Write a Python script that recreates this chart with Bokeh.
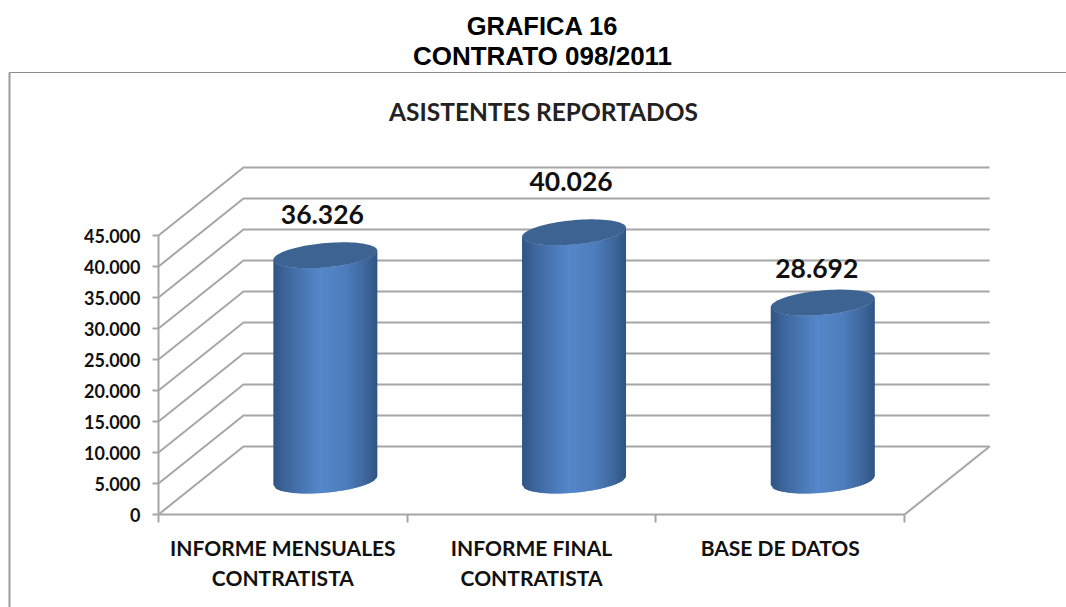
import numpy as np
from bokeh.plotting import figure
from bokeh.models import Range1d, FixedTicker, ColumnDataSource, Label, LinearAxis
from bokeh.embed import file_html
from bokeh.resources import INLINE

categories = ["INFORME MENSUALES\nCONTRATISTA", "INFORME FINAL\nCONTRATISTA", "BASE DE DATOS"]
values = [36326, 40026, 28692]
value_labels = ["36.326", "40.026", "28.692"]
y_ticks = [0, 5000, 10000, 15000, 20000, 25000, 30000, 35000, 40000, 45000]
y_tick_labels = ["0", "5.000", "10.000", "15.000", "20.000", "25.000", "30.000", "35.000", "40.000", "45.000"]
x_bounds = [0, 1, 2, 3]

W, H = 1066, 607
PX_X = 248.7       # px per category
PX_Y = 6.2 / 1000  # px per value unit
LEFT, AXIS_Y = 158, 514
sx = lambda px: px / PX_X
sy = lambda px: px / PX_Y
DX, DY = sx(85), sy(68)
# picture pixel -> data, for furniture placed by picture position
px2x = lambda x: (x - LEFT) / PX_X
px2y = lambda y: (AXIS_Y - y) / PX_Y

p = figure(width=W, height=H, output_backend="svg", toolbar_location=None,
           x_range=Range1d(px2x(0), px2x(W)), y_range=Range1d(px2y(H), px2y(0)),
           x_axis_type=None, y_axis_type=None,
           min_border_left=0, min_border_right=0, min_border_top=0, min_border_bottom=0,
           outline_line_color=None, background_fill_color="white", border_fill_color="white")
p.grid.visible = False

GREY = "#a6a6a6"
xa = LinearAxis(fixed_location=0)
p.add_layout(xa, "below")
xa.ticker = FixedTicker(ticks=[i + 0.5 for i in range(len(categories))], minor_ticks=x_bounds)
xa.major_label_overrides = {i + 0.5: c for i, c in enumerate(categories)}
xa.bounds = (x_bounds[0], x_bounds[-1])
xa.axis_line_color = GREY
xa.axis_line_width = 2
xa.major_tick_line_color = None
xa.major_tick_out = 0
xa.major_tick_in = 0
xa.minor_tick_line_color = GREY
xa.minor_tick_line_width = 2
xa.minor_tick_out = 8
xa.minor_tick_in = 0
xa.major_label_standoff = 12
xa.major_label_text_font = "Lato"
xa.major_label_text_font_style = "bold"
xa.major_label_text_font_size = "21px"
xa.major_label_text_color = "#111111"

ya = LinearAxis(fixed_location=0)
p.add_layout(ya, "left")
ya.ticker = FixedTicker(ticks=y_ticks, minor_ticks=[])
ya.major_label_overrides = dict(zip(y_ticks, y_tick_labels))
ya.bounds = (y_ticks[0], y_ticks[-1])
ya.axis_line_color = GREY
ya.axis_line_width = 2
ya.major_tick_line_color = GREY
ya.major_tick_line_width = 2
ya.major_tick_out = 6
ya.major_tick_in = 0
ya.major_label_standoff = 12
ya.major_label_text_font = "Lato"
ya.major_label_text_font_style = "bold"
ya.major_label_text_font_size = "18px"
ya.major_label_text_color = "#111111"

# Panel frame (top and left border)
p.line([px2x(9), px2x(9)], [px2y(H), px2y(72)], line_color="#9a9a9a", line_width=2)
p.line([px2x(9), px2x(W)], [px2y(72), px2y(72)], line_color="#8c8c8c", line_width=1.2)

# 3-D walls: side diagonals and back-wall horizontals
xs, ys = [], []
for v in y_ticks:
    xs.append([0, DX, x_bounds[-1] + DX])
    ys.append([v, v + DY, v + DY])
xs.append([x_bounds[-1], x_bounds[-1] + DX])
ys.append([0, DY])
p.multi_line(xs, ys, line_color=GREY, line_width=2)

# Cylinders
A = sx(52)
K, B = sy(4.5), sy(12.2)
STOPS = [(0.0, (47, 84, 132)), (0.12, (62, 102, 156)), (0.45, (85, 135, 202)), (0.7, (78, 125, 188)), (0.9, (60, 100, 152)), (1.0, (48, 84, 132))]
def shade(u):
    pos = [s[0] for s in STOPS]
    rgb = [int(round(np.interp(u, pos, [s[1][c] for s in STOPS]))) for c in range(3)]
    return "#%02x%02x%02x" % tuple(rgb)

N = 52
low = lambda u: K * u - B * np.sqrt(max(1 - u * u, 0))
for i, v in enumerate(values):
    cx = i + 0.5 + DX / 2
    base = DY / 2
    sxs, sys, cols = [], [], []
    edges = np.linspace(-1, 1, N + 1)
    for j in range(N):
        u0, u1 = edges[j], min(edges[j + 1] + 0.03, 1)
        sxs.append([cx + A * u0, cx + A * u1, cx + A * u1, cx + A * u0])
        sys.append([base + low(u0), base + low(u1), base + v + low(u1), base + v + low(u0)])
        cols.append(shade((j + 0.5) / N))
    p.patches(sxs, sys, fill_color=cols, line_color=None)
    t = np.linspace(0, 2 * np.pi, 90)
    p.patch(cx + A * np.cos(t), base + v + K * np.cos(t) + B * np.sin(t), fill_color="#3d6393", line_color=None)

# Data labels
src = ColumnDataSource(dict(x=[i + 0.5 + DX / 2 for i in range(len(values))],
                            y=[v + DY / 2 for v in values],
                            text=value_labels,
                            xo=[-3, -3, -6], yo=[-41, -51, -34]))
p.text("x", "y", text="text", source=src, x_offset="xo", y_offset="yo",
       text_align="center", text_baseline="middle", text_font={"value": "Lato"},
       text_font_style="bold", text_font_size="26.5px", text_color="#111111")

def lab(x, y, s, size, font, style="bold", color="#000000"):
    p.add_layout(Label(x=px2x(x), y=px2y(y), text=s,
                       text_align="center", text_baseline="middle", text_font=font,
                       text_font_style=style, text_font_size=size, text_color=color))
lab(542, 25, "GRAFICA 16", "25.5px", "Liberation Sans")
lab(542, 55, "CONTRATO 098/2011", "26px", "Liberation Sans")
lab(543, 111, "ASISTENTES REPORTADOS", "24.5px", "Lato", color="#222222")

open("out.html", "w").write(file_html(p, INLINE))
